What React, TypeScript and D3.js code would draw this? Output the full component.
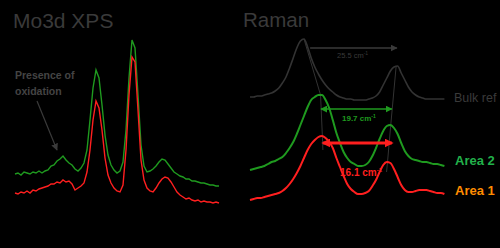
import React from "react";
import * as d3 from "d3";

// ---------- XPS (Mo3d) ----------
const XPS_START_EV = 239.5;
const XPS_STEP_EV = 0.27;
const XPS_GREEN = [
  36, 37, 35, 38, 37, 36, 38, 37, 39, 37, 39, 40, 44, 45, 49, 51, 54, 50, 47, 45,
  41, 39, 42, 47, 60, 90, 122, 140, 132, 105, 75, 55, 45, 40, 37, 39, 48, 80, 132, 170,
  162, 115, 65, 44, 38, 39, 41, 44, 48, 51, 50, 46, 42, 38, 36, 34, 33, 31, 31, 29,
  29, 28, 27, 27, 26, 25, 25, 24, 24,
];
const XPS_RED = [
  17, 16, 18, 17, 19, 17, 20, 19, 21, 22, 23, 24, 26, 26, 28, 27, 30, 28, 29, 26,
  20, 22, 24, 27, 38, 60, 90, 109, 102, 80, 52, 35, 27, 22, 19, 18, 25, 60, 115, 153,
  148, 100, 50, 30, 22, 19, 18, 22, 27, 31, 33, 32, 28, 23, 18, 15, 13, 11, 12, 10,
  9, 10, 8, 9, 8, 8, 7, 8, 7,
];
const XPS_ENERGY = XPS_GREEN.map((_, i) => XPS_START_EV - XPS_STEP_EV * i);

// ---------- Raman ----------
const RAMAN_SHIFT = d3.range(368, 423, 1);
const RAMAN_BULK = [
  113, 113, 114, 114, 115, 116, 117, 119, 122, 127, 133, 142, 152, 162, 169, 171, 163, 152, 143, 136,
  130, 125, 121, 118, 115, 113, 112, 111, 111, 110, 110, 110, 110, 111, 112, 114, 118, 125, 132, 139,
  143, 144, 137, 130, 123, 118, 115, 113, 112, 111, 111, 111, 111, 111, 111,
];
const RAMAN_AREA2 = [
  40, 41, 42, 43, 44, 46, 48, 49, 51, 53, 57, 62, 68, 76, 85, 94, 103, 110, 113, 115,
  115, 110, 102, 90, 77, 67, 58, 52, 48, 46, 44, 44, 45, 48, 54, 62, 71, 79, 84, 85,
  82, 76, 67, 59, 54, 51, 50, 49, 48, 48, 47, 46, 46, 45, 44,
];
const RAMAN_AREA1 = [
  10, 11, 12, 12, 13, 14, 15, 16, 17, 19, 22, 26, 31, 37, 44, 52, 60, 66, 70, 73,
  74, 72, 68, 62, 52, 43, 34, 26, 21, 18, 16, 16, 17, 19, 24, 30, 38, 45, 48, 47,
  41, 33, 25, 20, 18, 18, 19, 20, 20, 20, 19, 18, 17, 17, 16,
];
// peak positions (cm-1) and their intensities, used for the peak-tracking guide lines
const PEAK_E2G = [383, 387.6, 388.1];
const PEAK_E2G_LEVEL = [171, 115, 74, 60];
const PEAK_A1G = [408.6, 407.1, 406.2];
const PEAK_A1G_LEVEL = [144, 85, 48, 38];
const SHIFT_LABELS = ["25.5 cm", "19.7 cm", "16.1 cm"];
const SERIES_LABELS = ["Bulk ref", "Area 2", "Area 1"];

const W = 500;
const H = 248;
const FONT = "Arial, 'Liberation Sans', sans-serif";

export default function App() {
  const xX = d3.scaleLinear().domain([XPS_START_EV, XPS_START_EV - XPS_STEP_EV * 68]).range([15, 219]);
  const yI = d3.scaleLinear().domain([0, 180]).range([210, 30]);
  const xR = d3.scaleLinear().domain([368, 422]).range([250, 444.4]);

  const xpsLine = d3
    .line<number>()
    .x((_, i) => xX(XPS_ENERGY[i]))
    .y((d) => yI(d))
    .curve(d3.curveLinear);
  const ramanLine = d3
    .line<number>()
    .x((_, i) => xR(RAMAN_SHIFT[i]))
    .y((d) => yI(d))
    .curve(d3.curveMonotoneX);

  const guide = (pos: number[], lvl: number[]) => {
    const pts: [number, number][] = pos.map((p, i) => [xR(p), yI(lvl[i])]);
    pts.push([xR(pos[2] + (pos[2] - pos[1]) * 0.3), yI(lvl[3])]);
    return d3.line()(pts) as string;
  };

  const green = "#1f9a1f";
  const red = "#ff1f1f";
  const gray = "#3a3a3a";

  return (
    <svg
      width={W}
      height={H}
      style={{ position: "absolute", left: 0, top: 0, display: "block" }}
      fontFamily={FONT}
    >
      <defs>
        <marker id="ahGray" viewBox="0 0 10 10" refX="9" refY="5" markerWidth="7" markerHeight="7" markerUnits="userSpaceOnUse" orient="auto-start-reverse">
          <path d="M0,0 L10,5 L0,10 z" fill="#3a3a3a" />
        </marker>
        <marker id="ahGreen" viewBox="0 0 10 10" refX="9" refY="5" markerWidth="7" markerHeight="7" markerUnits="userSpaceOnUse" orient="auto-start-reverse">
          <path d="M0,0 L10,5 L0,10 z" fill={green} />
        </marker>
        <marker id="ahRed" viewBox="0 0 10 10" refX="8" refY="5" markerWidth="9" markerHeight="9" markerUnits="userSpaceOnUse" orient="auto-start-reverse">
          <path d="M0,0 L10,5 L0,10 z" fill={red} />
        </marker>
      </defs>
      <rect x={0} y={0} width={W} height={H} fill="#000" />

      {/* XPS panel */}
      <text x={13} y={28} fontSize={21} fill={gray}>Mo3d XPS</text>
      <text x={15} y={79} fontSize={10.5} fill="#444" fontWeight="bold">Presence of</text>
      <text x={15} y={95} fontSize={10.5} fill="#444" fontWeight="bold">oxidation</text>
      <line
        x1={xX(237.52)} y1={yI(109)} x2={xX(235.72)} y2={yI(60)}
        stroke="#3a3a3a" strokeWidth={1.2} markerEnd="url(#ahGray)"
      />
      <path d={xpsLine(XPS_GREEN) as string} fill="none" stroke={green} strokeWidth={1.4} />
      <path d={xpsLine(XPS_RED) as string} fill="none" stroke={red} strokeWidth={1.4} />

      {/* Raman panel */}
      <text x={243} y={27} fontSize={20.5} fill={gray}>Raman</text>
      <path d={guide(PEAK_E2G, PEAK_E2G_LEVEL)} fill="none" stroke="#333" strokeWidth={1} />
      <path d={guide(PEAK_A1G, PEAK_A1G_LEVEL)} fill="none" stroke="#333" strokeWidth={1} />
      <path d={ramanLine(RAMAN_BULK) as string} fill="none" stroke="#333" strokeWidth={1.6} />
      <path d={ramanLine(RAMAN_AREA2) as string} fill="none" stroke={green} strokeWidth={2} />
      <path d={ramanLine(RAMAN_AREA1) as string} fill="none" stroke={red} strokeWidth={2} />

      {/* shift arrows */}
      <line x1={xR(384.7)} y1={yI(162)} x2={xR(408.8)} y2={yI(162)} stroke="#3a3a3a" strokeWidth={1.3} markerEnd="url(#ahGray)" />
      <text x={337} y={58} fontSize={7.5} fill="#3a3a3a">
        {SHIFT_LABELS[0]}<tspan dy={-3} fontSize={5}>-1</tspan>
      </text>
      <line x1={xR(387.7)} y1={yI(101)} x2={xR(407.4)} y2={yI(101)} stroke={green} strokeWidth={1.6} markerStart="url(#ahGreen)" markerEnd="url(#ahGreen)" />
      <text x={342} y={121} fontSize={8} fill={green} fontWeight="bold">
        {SHIFT_LABELS[1]}<tspan dy={-3} fontSize={5}>-1</tspan>
      </text>
      <line x1={xR(388.3)} y1={yI(67)} x2={xR(407.4)} y2={yI(67)} stroke={red} strokeWidth={3} markerStart="url(#ahRed)" markerEnd="url(#ahRed)" />
      <text x={340} y={176} fontSize={10} fill={red} fontWeight="bold">
        {SHIFT_LABELS[2]}<tspan dy={-4} fontSize={6}>-1</tspan>
      </text>

      {/* series labels */}
      <text x={454} y={102} fontSize={12.5} fill={gray}>{SERIES_LABELS[0]}</text>
      <text x={455} y={165} fontSize={13} fill="#22b04a" fontWeight="bold">{SERIES_LABELS[1]}</text>
      <text x={455} y={195} fontSize={13} fill="#ff8c00" fontWeight="bold">{SERIES_LABELS[2]}</text>
    </svg>
  );
}
